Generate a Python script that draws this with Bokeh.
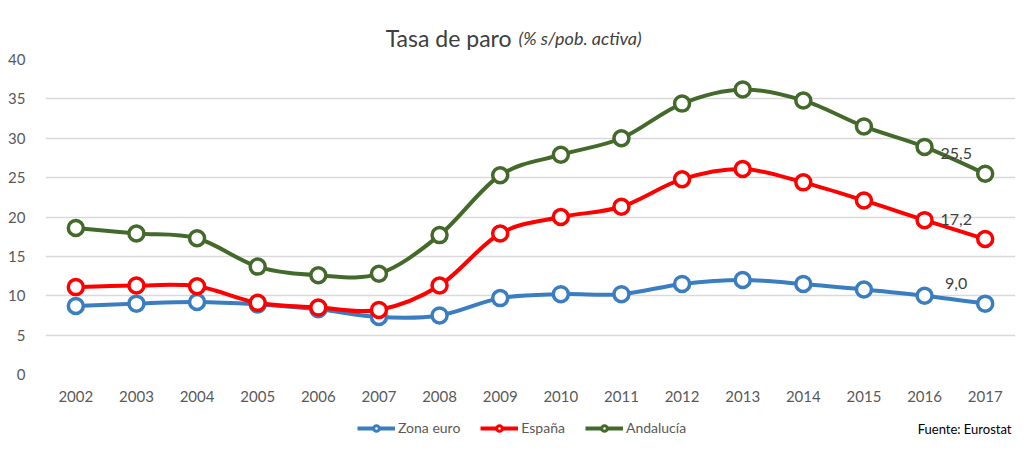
from bokeh.plotting import figure
from bokeh.models import Legend, LegendItem, Range1d, FixedTicker
from bokeh.layouts import column
from bokeh.embed import file_html
from bokeh.resources import INLINE
from bokeh.core.properties import value

years = list(range(2002, 2018))
zona_euro = [8.7, 9.0, 9.2, 8.9, 8.3, 7.3, 7.5, 9.7, 10.2, 10.2, 11.5, 12.0, 11.5, 10.8, 10.0, 9.0]
espana = [11.1, 11.3, 11.2, 9.1, 8.5, 8.2, 11.3, 17.9, 20.0, 21.3, 24.8, 26.1, 24.4, 22.1, 19.6, 17.2]
andalucia = [18.6, 17.9, 17.3, 13.7, 12.6, 12.8, 17.7, 25.3, 27.9, 30.0, 34.4, 36.2, 34.8, 31.5, 28.9, 25.5]
series_names = ["Zona euro", "España", "Andalucía"]
series_colors = ["#3b7dc1", "#ff0000", "#446a2b"]
last_labels = ["9,0", "17,2", "25,5"]
y_ticks = [0, 5, 10, 15, 20, 25, 30, 35, 40]
title_main = "Tasa de paro"
title_sub = "(% s/pob. activa)"
source_note = "Fuente: Eurostat"

FONT = "Lato"
W = 1016
LEFT, RIGHT = 45, 1015          # frame edges shared by all stacked figures (aligned by column)
TITLE_H, MAIN_H, FOOT_H = 50, 361, 26


def blank_fig(h):
    # the column layout aligns this frame with the main frame, so map x to canvas pixels
    f = figure(width=W, height=h, x_range=Range1d(LEFT, RIGHT), y_range=Range1d(h, 0),
               x_axis_type=None, y_axis_type=None, output_backend="svg",
               toolbar_location=None, min_border=0,
               min_border_left=LEFT, min_border_right=W - RIGHT)
    f.outline_line_color = None
    f.background_fill_color = "white"
    f.border_fill_color = "white"
    return f


# ---- title strip ----
t = blank_fig(TITLE_H)
t.text(x=[511], y=[37], text=[title_main], text_align="right", text_baseline="alphabetic",
       text_font=value(FONT), text_font_size="23px", text_color="#404040")
t.text(x=[518], y=[37], text=[title_sub], text_align="left", text_baseline="alphabetic",
       text_font=value(FONT), text_font_style="italic", text_font_size="18px",
       text_color="#404040")

# ---- main chart ----
p = figure(width=W, height=MAIN_H, x_range=Range1d(2001.5, 2017.5), y_range=Range1d(0, 40),
           output_backend="svg", toolbar_location=None,
           min_border_left=LEFT, min_border_right=W - RIGHT, min_border_top=9,
           min_border_bottom=37)
p.outline_line_color = None
p.background_fill_color = "white"
p.border_fill_color = "white"

for ax in (p.xaxis, p.yaxis):
    ax.axis_line_color = None
    ax.major_tick_line_color = None
    ax.minor_tick_line_color = None
    ax.major_label_text_font = FONT
    ax.major_label_text_font_size = "15px"
    ax.major_label_text_color = "#595959"
p.xaxis.ticker = FixedTicker(ticks=years)
p.yaxis.ticker = FixedTicker(ticks=y_ticks)
p.xaxis.major_label_standoff = 10
p.yaxis.major_label_standoff = 14
p.xgrid.grid_line_color = None
p.ygrid.grid_line_color = "#d9d9d9"
p.ygrid.grid_line_width = 1.5


def smooth_segments(xs, ys):
    n = len(xs)
    x0, y0, x1, y1, cx0, cy0, cx1, cy1 = [], [], [], [], [], [], [], []
    for i in range(n - 1):
        pm = i - 1 if i > 0 else 0
        pp = i + 2 if i + 2 < n else n - 1
        x0.append(xs[i]); y0.append(ys[i])
        x1.append(xs[i + 1]); y1.append(ys[i + 1])
        cx0.append(xs[i] + (xs[i + 1] - xs[pm]) / 6.0)
        cy0.append(ys[i] + (ys[i + 1] - ys[pm]) / 6.0)
        cx1.append(xs[i + 1] - (xs[pp] - xs[i]) / 6.0)
        cy1.append(ys[i + 1] - (ys[pp] - ys[i]) / 6.0)
    return dict(x0=x0, y0=y0, x1=x1, y1=y1, cx0=cx0, cy0=cy0, cx1=cx1, cy1=cy1)


all_series = [zona_euro, espana, andalucia]
for vals, col in zip(all_series, series_colors):
    seg = smooth_segments(years, vals)
    p.bezier(source=seg, x0="x0", y0="y0", x1="x1", y1="y1", cx0="cx0", cy0="cy0",
             cx1="cx1", cy1="cy1", line_color=col, line_width=4)
    p.scatter(years, vals, marker="circle", size=15, fill_color="white",
              line_color=col, line_width=3.5)

last_vals = [v[-1] for v in all_series]
p.text(x=[years[-1]] * 3, y=last_vals, text=last_labels, x_offset=-29, y_offset=-20,
       text_align="center", text_baseline="alphabetic", text_font=value(FONT),
       text_font_size="16px", text_color="#404040")

# ---- footer strip: legend + source ----
f = blank_fig(FOOT_H)
nan = float("nan")
items = []
for name, col in zip(series_names, series_colors):
    lg_line = f.line([nan], [nan], line_color=col, line_width=4)
    lg_dot = f.scatter([nan], [nan], marker="circle", size=8, fill_color="white",
                       line_color=col, line_width=3)
    items.append(LegendItem(label=name, renderers=[lg_line, lg_dot]))
legend = Legend(items=items, orientation="horizontal", location=(357 - LEFT, 1),
                glyph_width=38, glyph_height=14, label_height=14, label_standoff=3,
                spacing=20, padding=0, margin=0, border_line_color=None,
                background_fill_alpha=0, label_text_font=FONT,
                label_text_font_size="14px", label_text_color="#595959")
f.add_layout(legend, "center")
f.text(x=[1011], y=[17], text=[source_note], text_align="right", text_baseline="alphabetic",
       text_font=value(FONT), text_font_size="13px", text_color="#000000")

layout = column(t, p, f, spacing=0)
open("out.html", "w").write(file_html(layout, INLINE))
